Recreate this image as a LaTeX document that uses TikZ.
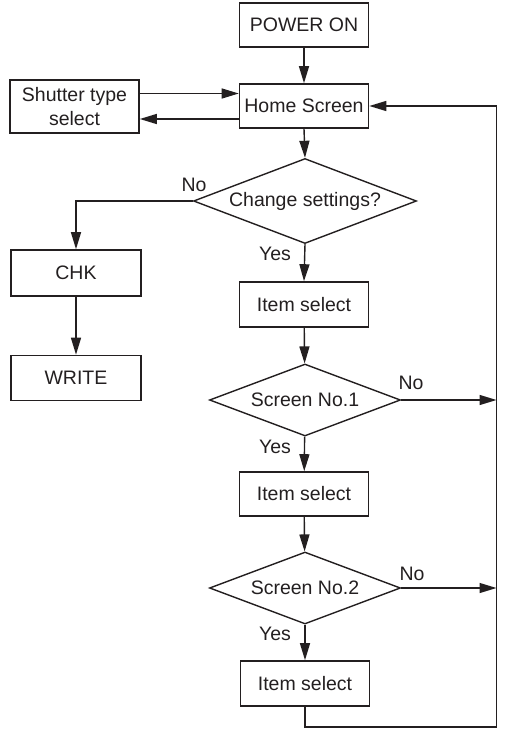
\documentclass[tikz,border=0pt]{standalone}
\usepackage{fontspec}
\setmainfont{Liberation Sans}
\usetikzlibrary{shapes.geometric,arrows.meta}
\definecolor{ink}{RGB}{35,31,32}
\begin{document}
\begin{tikzpicture}[x=1pt,y=-1pt,
  every node/.style={text=ink,font=\fontsize{19.5}{23.4}\selectfont},
  box/.style={draw=ink,line width=1.6pt,rectangle,inner sep=0pt,minimum width=129pt,minimum height=44pt,align=center},
  dia/.style={draw=ink,line width=1.4pt,diamond,inner sep=0pt},
  lbl/.style={inner sep=0pt},
  arr/.style={draw=ink,line width=1.4pt,-{Triangle[length=17pt,width=10pt]}},
  ln/.style={draw=ink,line width=1.4pt}]
\useasboundingbox (0,0) rectangle (509,729);
\node[box] (pwr) at (304,25) {POWER ON};
\node[box] (home) at (304,106) {Home Screen};
\node[box,minimum height=53pt] (shut) at (74.5,106.5) {Shutter type\\select};
\node[dia,aspect=2.62,minimum width=223pt,minimum height=85pt] (chg) at (305,201) {Change settings?};
\node[box,minimum width=130pt,minimum height=46pt] (chk) at (76,273) {CHK};
\node[box,minimum width=130pt,minimum height=45pt] (wr) at (76,378) {WRITE};
\node[box,minimum height=45pt] (it1) at (304,304.5) {Item select};
\node[dia,aspect=2.65,minimum width=191pt,minimum height=72pt] (s1) at (305,400) {Screen No.1};
\node[box] (it2) at (304,494) {Item select};
\node[dia,aspect=2.65,minimum width=191pt,minimum height=72pt] (s2) at (305,588) {Screen No.2};
\node[box,minimum height=45pt] (it3) at (305,683.5) {Item select};
\node[lbl] (no0) at (194,185) {No};
\node[lbl] (yes0) at (275,254) {Yes};
\node[lbl] (no1) at (411,383) {No};
\node[lbl] (yes1) at (275,447) {Yes};
\node[lbl] (no2) at (412,574) {No};
\node[lbl] (yes2) at (275,634) {Yes};
\coordinate (rt) at (496.5,106);
\coordinate (rb) at (496.5,727);
\draw[arr] (pwr) -- (home);
\draw[arr] ([yshift=13pt]shut.east) -- ([yshift=13pt]shut.east -| home.west);
\draw[arr] ([yshift=-13pt]home.west) -- ([yshift=-13pt]home.west -| shut.east);
\draw[arr] (home.south) -- (chg.north);
\draw[arr] (chg.west) -| (chk.north);
\draw[arr] (chk) -- (wr);
\draw[arr] (chg.south) -- (it1.north);
\draw[arr] (it1) -- (s1);
\draw[arr] (s1) -- (it2);
\draw[arr] (it2) -- (s2);
\draw[arr] (s2) -- (it3);
\draw[arr] (s1.east) -- (s1.east -| rt);
\draw[arr] (s2.east) -- (s2.east -| rt);
\draw[arr] (it3.south) |- (rb) -- (rt) -- (home.east);
\end{tikzpicture}
\end{document}
